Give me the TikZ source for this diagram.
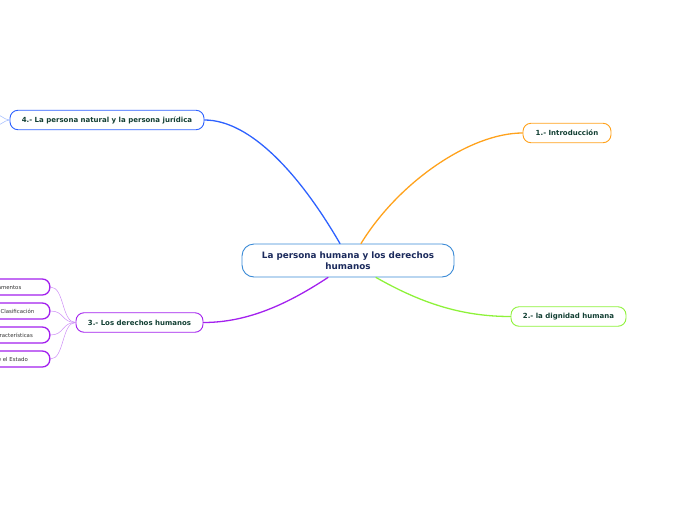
\documentclass[tikz,border=0pt]{standalone}
\usepackage{fontspec}
\setmainfont{DejaVu Sans}
\usetikzlibrary{calc}

\definecolor{rootline}{HTML}{3A8AD6}
\definecolor{rootink}{HTML}{1B2A5C}
\definecolor{topicink}{HTML}{123F33}
\definecolor{leafink}{HTML}{333333}
\definecolor{bblue}{HTML}{2E62FF}
\definecolor{borange}{HTML}{FFA21C}
\definecolor{bgreen}{HTML}{8EF23A}
\definecolor{bviolet}{HTML}{A321EE}
\definecolor{twigviolet}{HTML}{CC8CF6}
\definecolor{twigblue}{HTML}{9DB8FF}

\begin{document}
\begin{tikzpicture}[
    x=1pt, y=-1pt,
    root/.style={draw=rootline, line width=0.9pt, fill=white, rounded corners=12pt, minimum width=212pt, minimum height=33pt, align=center, font=\fontsize{8.8}{10.5}\selectfont\bfseries, text=rootink},
    topic/.style={draw=#1, line width=0.9pt, fill=white, rounded corners=8pt, minimum height=19.5pt, inner xsep=0pt, font=\fontsize{7}{8}\selectfont\bfseries, text=topicink},
    leaf/.style={draw=bviolet, line width=1.3pt, fill=white, rounded corners=7.5pt, minimum height=16pt, anchor=east, font=\fontsize{5.4}{6}\selectfont, text=leafink},
    br/.style={draw=#1, line width=1.3pt, line cap=round},
    twig/.style={draw=#1, line width=0.5pt}
]
\useasboundingbox (0,0) rectangle (696,520);
\clip (0,0) rectangle (696,520);

% central topic
\node[root] (root) at (348,260.5) {La persona humana y los derechos\\humanos};

% main topics
\node[topic=bblue, minimum width=194pt] (natural) at (107,120) {4.- La persona natural y la persona jurídica};
\node[topic=borange, minimum width=88pt] (intro) at (567,133) {1.- Introducción};
\node[topic=bgreen, minimum width=115pt] (dignidad) at (568.5,316.5) {2.- la dignidad humana};
\node[topic=bviolet, minimum width=127pt] (ddhh) at (139.5,322.5) {3.- Los derechos humanos};

% subtopics of 3
\node[leaf, inner xsep=28.5pt] (fund) at (50.5,287) {Fundamentos};
\node[leaf, inner xsep=15.5pt] (clas) at (50.5,311) {Clasificación};
\node[leaf, inner xsep=17pt] (carac) at (50.5,335) {Características};
\node[leaf, inner xsep=22pt] (estado) at (50.5,359) {Deberes ante el Estado};

% branches from the centre
\draw[br=bblue] ($(root.north)+(-8,0)$) .. controls +(-40,-69) and +(46,0) .. (natural.east);
\draw[br=borange] ($(root.north)+(13,0)$) .. controls +(38,-62) and +(-52,0) .. (intro.west);
\draw[br=bgreen] ($(root.south)+(28,0)$) .. controls +(44,25) and +(-50,0) .. (dignidad.west);
\draw[br=bviolet] ($(root.south)+(-20,0)$) .. controls +(-38,25) and +(46,0) .. (ddhh.east);

% twigs
\foreach \l in {fund,clas,carac,estado}
  \draw[twig=twigviolet] (ddhh.west) .. controls +(-14,0) and +(14,0) .. (\l.east);
\coordinate (offa) at (-6,113);
\coordinate (offb) at (-6,127);
\draw[twig=twigblue] (natural.west) .. controls +(-5,0) and +(4,0) .. (offa);
\draw[twig=twigblue] (natural.west) .. controls +(-5,0) and +(4,0) .. (offb);
\end{tikzpicture}
\end{document}
